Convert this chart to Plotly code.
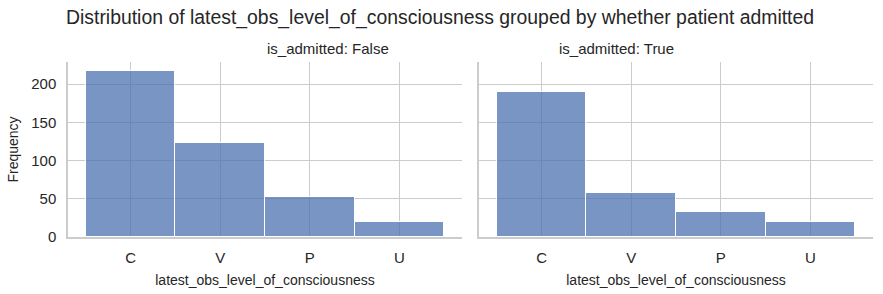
import plotly.graph_objects as go

categories = ["C", "V", "P", "U"]
false_counts = [217, 123, 52, 20]
true_counts = [190, 57, 33, 20]
panel_titles = ["is_admitted: False", "is_admitted: True"]
y_ticks = [0, 50, 100, 150, 200]

W, H = 883, 294
FONT = "Liberation Sans, Arial, sans-serif"
TXT = "#262626"
GRID = "#cccccc"
BAR = "rgba(76,114,176,0.75)"

fig = go.Figure()
for i, vals in enumerate([false_counts, true_counts]):
    fig.add_trace(go.Bar(
        x=list(range(len(categories))), y=vals, width=1,
        marker=dict(color=BAR, line=dict(color="white", width=1)),
        xaxis="x" if i == 0 else "x2", yaxis="y" if i == 0 else "y2",
        showlegend=False, hoverinfo="skip"))

x1 = [68 / W, 462 / W]
x2 = [479 / W, 873 / W]
yd = [1 - 237 / H, 1 - 62 / H]

common_x = dict(range=[-0.7, 3.7], tickmode="array", tickvals=list(range(4)),
                ticktext=categories, showgrid=True, gridcolor=GRID, gridwidth=1,
                showline=True, linecolor=GRID, linewidth=1.5, zeroline=False,
                ticks="outside", ticklen=6, tickcolor="rgba(0,0,0,0)", automargin=False,
                tickfont=dict(family=FONT, size=15, color=TXT),
                title=dict(text="latest_obs_level_of_consciousness",
                           font=dict(family=FONT, size=14, color=TXT), standoff=10))
common_y = dict(range=[0, 229], tickmode="array", tickvals=y_ticks,
                showgrid=True, gridcolor=GRID, gridwidth=1, showline=True,
                linecolor=GRID, linewidth=1.5, zeroline=False,
                ticks="outside", ticklen=7, tickcolor="rgba(0,0,0,0)", automargin=False,
                tickfont=dict(family=FONT, size=15, color=TXT))

fig.update_layout(
    width=W, height=H, margin=dict(l=0, r=0, t=0, b=0),
    paper_bgcolor="white", plot_bgcolor="white", bargap=0,
    xaxis=dict(domain=x1, anchor="y", **common_x),
    xaxis2=dict(domain=x2, anchor="y2", **common_x),
    yaxis=dict(domain=yd, anchor="x", title=dict(text="Frequency",
               font=dict(family=FONT, size=14, color=TXT), standoff=9), **common_y),
    yaxis2=dict(domain=yd, anchor="x2", showticklabels=False, matches="y", **common_y),
    annotations=[
        dict(text=panel_titles[0], x=(x1[0] + x1[1]) / 2, y=1 - 49 / H, xref="paper", yref="paper",
             showarrow=False, font=dict(family=FONT, size=15, color=TXT), yanchor="middle"),
        dict(text=panel_titles[1], x=(x2[0] + x2[1]) / 2, y=1 - 49 / H, xref="paper", yref="paper",
             showarrow=False, font=dict(family=FONT, size=15, color=TXT), yanchor="middle"),
        dict(text="Distribution of latest_obs_level_of_consciousness grouped by whether patient admitted",
             x=64 / W, y=1 - 18 / H, xref="paper", yref="paper", xanchor="left", yanchor="middle",
             showarrow=False, font=dict(family=FONT, size=19.4, color=TXT)),
    ],
)

fig.write_html("out.html")
